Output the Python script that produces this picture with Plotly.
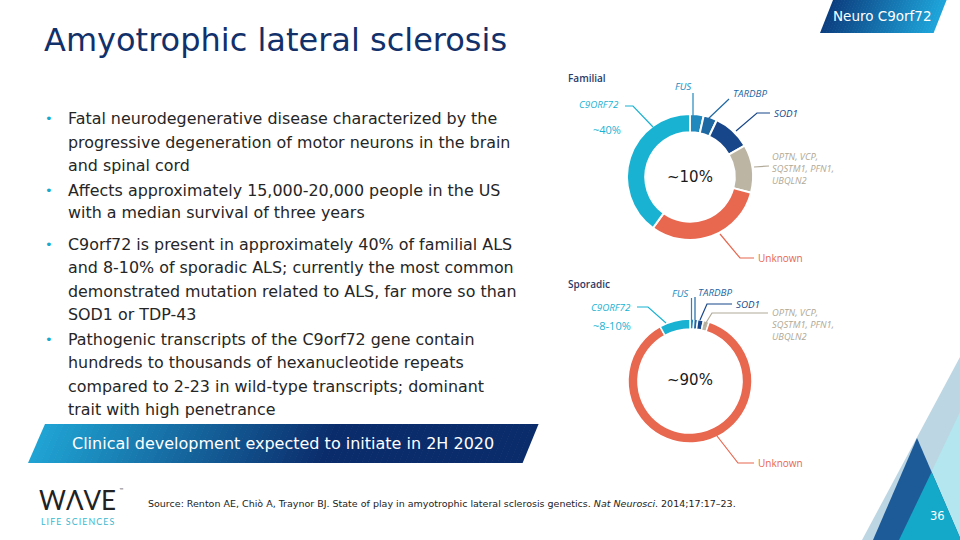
import plotly.graph_objects as go

# ---------------- data ----------------
slice_names = ["FUS", "TARDBP", "SOD1", "OPTN, VCP, SQSTM1, PFN1, UBQLN2", "Unknown", "C9ORF72"]
familial_values = [3.5, 3.5, 9.7, 12.3, 31.0, 40.0]
sporadic_values = [1.0, 1.0, 1.5, 1.5, 87.0, 8.0]
slice_colors = ["#2189bd", "#1d67a3", "#17468a", "#bcb5a4", "#e8674f", "#19b2d2"]

familial_center_text = "~10%"
sporadic_center_text = "~90%"
familial_c9_share = "~40%"
sporadic_c9_share = "~8-10%"

title_text = "Amyotrophic lateral sclerosis"
bullets = [
    ["Fatal neurodegenerative disease characterized by the",
     "progressive degeneration of motor neurons in the brain",
     "and spinal cord"],
    ["Affects approximately 15,000-20,000 people in the US",
     "with a median survival of three years"],
    ["C9orf72 is present in approximately 40% of familial ALS",
     "and 8-10% of sporadic ALS; currently the most common",
     "demonstrated mutation related to ALS, far more so than",
     "SOD1 or TDP-43"],
    ["Pathogenic transcripts of the C9orf72 gene contain",
     "hundreds to thousands of hexanucleotide repeats",
     "compared to 2-23 in wild-type transcripts; dominant",
     "trait with high penetrance"],
]
banner_text = "Clinical development expected to initiate in 2H 2020"
tag_text = "Neuro C9orf72"
source_text = ("Source: Renton AE, Chiò A, Traynor BJ. State of play in amyotrophic lateral sclerosis "
               "genetics. <i>Nat Neurosci</i>. 2014;17:17–23.")
page_number = "36"

W, H = 960, 540


def X(px):
    return px / W


def Y(py):
    return 1 - py / H


def hexmix(c1, c2, t):
    a = [int(c1[i:i + 2], 16) for i in (1, 3, 5)]
    b = [int(c2[i:i + 2], 16) for i in (1, 3, 5)]
    m = [round(a[k] + (b[k] - a[k]) * t) for k in range(3)]
    return "#%02x%02x%02x" % tuple(m)


fig = go.Figure()

# --------------- donuts ---------------
def donut(values, cx, cy, r, hole, lw):
    fig.add_trace(go.Pie(
        labels=slice_names, values=values, sort=False, direction="clockwise", rotation=0,
        hole=hole, textinfo="none", hoverinfo="label+value", showlegend=False,
        marker=dict(colors=slice_colors, line=dict(color="white", width=lw)),
        domain=dict(x=[X(cx - r), X(cx + r)], y=[Y(cy + r), Y(cy - r)]),
    ))


donut(familial_values, 690, 177, 63, 0.71, 2)
donut(sporadic_values, 690, 381, 62, 0.84, 1.5)

shapes = []
annotations = []


def txt(s, x, y, size, color, anchor="left", family="DejaVu Sans", weight=None, align="left"):
    f = dict(size=size, color=color, family=family)
    if weight:
        f["weight"] = weight
    annotations.append(dict(text=s, x=X(x), y=Y(y), xref="paper", yref="paper",
                            xanchor=anchor, yanchor="middle", showarrow=False, font=f,
                            borderpad=0, align=align))


def leader(points, color, width=1.2):
    p = "M " + " L ".join("%f %f" % (X(a), Y(b)) for a, b in points)
    shapes.append(dict(type="path", path=p, xref="paper", yref="paper",
                       line=dict(color=color, width=width)))


LF = "Open Sans"
navy_lbl = "#2c3a66"
c_fus, c_tar, c_sod, c_opt, c_unk, c_c9 = slice_colors[0], slice_colors[1], slice_colors[2], "#b0a997", slice_colors[4], slice_colors[5]
LS = 9.8
optn_block = "<i>OPTN, VCP,<br>SQSTM1, PFN1,<br>UBQLN2</i>"

# Familial labels
txt("Familial", 567, 78, 10, navy_lbl, family=LF, weight=600)
txt("<i>FUS</i>", 693, 87, LS, c_fus, anchor="right", family=LF)
leader([(693, 93), (693, 116)], c_fus)
txt("<i>TARDBP</i>", 732, 93, LS, c_tar, family=LF)
leader([(729, 99), (708, 119)], c_tar)
txt("<i>SOD1</i>", 773, 113, LS, c_sod, family=LF)
leader([(770, 113), (757, 113), (736, 131)], c_sod)
txt(optn_block, 771, 168.5, 9.3, c_opt, family=LF)
leader([(754, 167), (769, 166)], c_opt)
txt("Unknown", 757, 258, 10, c_unk, family=LF)
leader([(754, 258), (740, 258), (720, 234)], c_unk)
txt("<i>C9ORF72</i>", 620, 105, LS, c_c9, anchor="right", family=LF)
leader([(625, 106), (633, 106), (653, 127)], c_c9)
txt(familial_c9_share, 622, 129, 11, c_c9, anchor="right", family=LF)
txt(familial_center_text, 690, 177, 15, "#1a1a1a", anchor="center")

# Sporadic labels
txt("Sporadic", 567, 284, 10, navy_lbl, family=LF, weight=600)
txt("<i>FUS</i>", 690, 293, LS, c_fus, anchor="right", family=LF)
leader([(691.5, 298), (691.5, 320)], c_fus)
txt("<i>TARDBP</i>", 697, 292, LS, c_tar, family=LF)
leader([(695, 297), (695, 320)], c_tar)
txt("<i>SOD1</i>", 735, 304, LS, c_sod, family=LF)
leader([(732, 304), (707, 304), (700, 320)], c_sod)
txt(optn_block, 771, 324.5, 9.3, c_opt, family=LF)
leader([(768, 313), (712, 313), (704, 326)], c_opt)
txt("<i>C9ORF72</i>", 632, 307, LS, c_c9, anchor="right", family=LF)
leader([(637, 307), (648, 307), (666, 323)], c_c9)
txt(sporadic_c9_share, 632, 325, 11, c_c9, anchor="right", family=LF)
txt(sporadic_center_text, 690, 380, 15, "#1a1a1a", anchor="center")
txt("Unknown", 757, 463, 10, c_unk, family=LF)
leader([(754, 463), (738, 463), (717, 436)], c_unk)

# --------------- title & bullets ---------------
txt(title_text, 43, 40, 32, "#12306a")
line_y = [[118, 142, 165], [190, 213], [244, 268, 291, 314], [339, 362, 386, 409]]
for blines, ys in zip(bullets, line_y):
    txt("•", 44, ys[0], 13, "#1aa9cc")
    for s, yy in zip(blines, ys):
        txt(s, 67, yy, 15.9, "#262626")

# --------------- banner (gradient parallelogram) ---------------
n = 80
x0t, x1t, x0b, x1b, yt, yb = 45, 538, 28, 522, 424, 463
for i in range(n):
    t0, t1 = i / n, (i + 1) / n
    xa_t = x0t + (x1t - x0t) * t0
    xb_t = x0t + (x1t - x0t) * t1 + 0.6
    xa_b = x0b + (x1b - x0b) * t0
    xb_b = x0b + (x1b - x0b) * t1 + 0.6
    tt = min(1, t0 * 1.7)
    col = hexmix("#1fa3d3", "#0b2c6b", tt)
    shapes.append(dict(type="path", xref="paper", yref="paper", layer="below",
                       path="M %f %f L %f %f L %f %f L %f %f Z" % (
                           X(xa_b), Y(yb), X(xa_t), Y(yt), X(xb_t), Y(yt), X(xb_b), Y(yb)),
                       fillcolor=col, line=dict(width=0)))
txt(banner_text, 283, 443.5, 16, "white", anchor="center")

# --------------- top-right tag ---------------
n = 40
x0t, x1t, x0b, x1b, yt, yb = 833, 946, 820, 933, 0, 33
for i in range(n):
    t0, t1 = i / n, (i + 1) / n
    col = hexmix("#0c3f80", "#1ea7dc", t0)
    shapes.append(dict(type="path", xref="paper", yref="paper", layer="below",
                       path="M %f %f L %f %f L %f %f L %f %f Z" % (
                           X(x0b + (x1b - x0b) * t0), Y(yb), X(x0t + (x1t - x0t) * t0), Y(yt),
                           X(x0t + (x1t - x0t) * t1 + 0.6), Y(yt), X(x0b + (x1b - x0b) * t1 + 0.6), Y(yb)),
                       fillcolor=col, line=dict(width=0)))
txt(tag_text, 882, 16, 13.5, "white", anchor="center")


# --------------- bottom-right triangles ---------------
def poly(pts, color):
    p = "M " + " L ".join("%f %f" % (X(a), Y(b)) for a, b in pts) + " Z"
    shapes.append(dict(type="path", path=p, xref="paper", yref="paper", layer="below",
                       fillcolor=color, line=dict(width=0)))


poly([(960, 357), (862, 540), (960, 540)], "#bcd6e3")
poly([(960, 412), (899, 540), (960, 540)], "#b3e6ee")
poly([(917, 438), (873, 540), (961, 540)], "#1d5a98")
poly([(931.6, 472), (899, 540), (961, 540)], "#14a9c9")
txt(page_number, 937, 516, 11.5, "white", anchor="center")

# --------------- logo & source ---------------
txt("WΛVE", 38, 500, 26, "#222222", family="Lato", weight=400)
txt("™", 118, 490, 5, "#222222")
ts = "\u2009"
txt(ts.join("LIFE") + "  " + ts.join("SCIENCES"), 40, 521, 8.8, "#3ab8cf", family="Lato")
txt(source_text, 147, 503, 9.5, "#222222")

fig.update_layout(
    width=W, height=H, margin=dict(l=0, r=0, t=0, b=0),
    paper_bgcolor="white", plot_bgcolor="white",
    shapes=shapes, annotations=annotations,
    xaxis=dict(visible=False), yaxis=dict(visible=False),
)
fig.write_html("out.html", config={"displayModeBar": False},
               post_script="document.body.style.margin='0';document.body.style.overflow='hidden';")
